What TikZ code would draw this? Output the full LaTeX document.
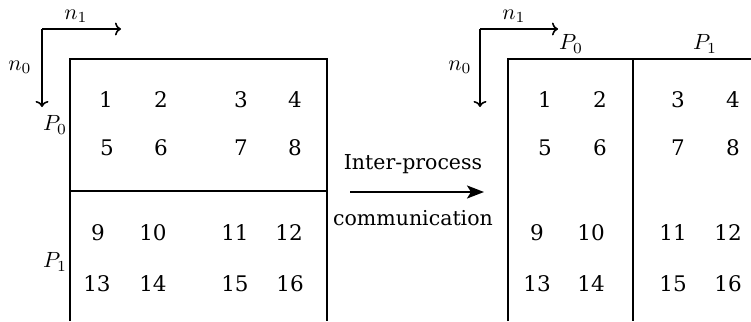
\documentclass[tikz,border=0pt]{standalone}
\usepackage{graphicx}
\usepackage{fontspec}
\setmainfont{DejaVu Serif}
\usetikzlibrary{arrows.meta}
\newcommand{\mylbl}[1]{\scalebox{2.2}{$#1$}}
\begin{document}
\begin{tikzpicture}[x=1pt,y=-1pt,
  num/.style={inner sep=0pt,font=\fontsize{21.5}{24}\selectfont},
  lbl/.style={inner sep=0pt},
  txt/.style={inner sep=0pt,font=\fontsize{20.5}{24}\selectfont},
  boxline/.style={line width=1.6pt},
  divline/.style={line width=2.4pt},
  axis/.style={line width=1.6pt,-{To[length=6pt,width=13pt]}},
  comm/.style={line width=2.2pt,-{Stealth[length=17pt,width=13pt,inset=4pt]}}]
\useasboundingbox (0,0) rectangle (751,321);
% ---------- left panel ----------
\coordinate (lo) at (42,29);
\coordinate (lx) at (121,29);
\coordinate (ly) at (42,107);
\draw[axis] (lo) -- (lx);
\draw[axis] (lo) -- (ly);
\node[lbl] (ln1) at (76,16) {\mylbl{n_1}};
\node[lbl] (ln0) at (20,67) {\mylbl{n_0}};
\node[lbl] (lp0) at (55,125) {\mylbl{P_0}};
\node[lbl] (lp1) at (55,262) {\mylbl{P_1}};
\coordinate (lbl) at (70,321);
\coordinate (ltl) at (70,59);
\coordinate (ltr) at (327,59);
\coordinate (lbr) at (327,321);
\coordinate (lml) at (70,191);
\coordinate (lmr) at (327,191);
\draw[boxline] (lbl) -- (ltl) -- (ltr) -- (lbr);
\draw[divline] (lml) -- (lmr);
\node[num] (a1) at (106,100) {1};
\node[num] (a2) at (161,100) {2};
\node[num] (a3) at (241,100) {3};
\node[num] (a4) at (295,100) {4};
\node[num] (a5) at (107,148) {5};
\node[num] (a6) at (161,148) {6};
\node[num] (a7) at (241,148) {7};
\node[num] (a8) at (295,148) {8};
\node[num] (a9) at (98,233) {9};
\node[num] (a10) at (153,233) {10};
\node[num] (a11) at (235,233) {11};
\node[num] (a12) at (289,233) {12};
\node[num] (a13) at (97,284) {13};
\node[num] (a14) at (153,284) {14};
\node[num] (a15) at (235,284) {15};
\node[num] (a16) at (290,284) {16};
% ---------- arrow ----------
\coordinate (cs) at (350,192);
\coordinate (ce) at (484,192);
\draw[comm] (cs) -- (ce);
\node[txt] (t1) at (413,164) {Inter-process};
\node[txt] (t2) at (413,218) {communication};
% ---------- right panel ----------
\coordinate (ro) at (480,29);
\coordinate (rx) at (558,29);
\coordinate (ry) at (480,107);
\draw[axis] (ro) -- (rx);
\draw[axis] (ro) -- (ry);
\node[lbl] (rn1) at (514,16) {\mylbl{n_1}};
\node[lbl] (rn0) at (460,67) {\mylbl{n_0}};
\node[lbl] (rp0) at (571,44) {\mylbl{P_0}};
\node[lbl] (rp1) at (705,44) {\mylbl{P_1}};
\coordinate (rbl) at (508,321);
\coordinate (rtl) at (508,59);
\coordinate (rtr) at (751,59);
\coordinate (rmt) at (633,59);
\coordinate (rmb) at (633,321);
\draw[boxline] (rbl) -- (rtl) -- (rtr);
\draw[divline] (rmt) -- (rmb);
\node[num] (b1) at (545,100) {1};
\node[num] (b2) at (600,100) {2};
\node[num] (b3) at (678,100) {3};
\node[num] (b4) at (733,100) {4};
\node[num] (b5) at (545,148) {5};
\node[num] (b6) at (600,148) {6};
\node[num] (b7) at (678,148) {7};
\node[num] (b8) at (733,148) {8};
\node[num] (b9) at (537,233) {9};
\node[num] (b10) at (591,233) {10};
\node[num] (b11) at (673,233) {11};
\node[num] (b12) at (728,233) {12};
\node[num] (b13) at (537,284) {13};
\node[num] (b14) at (591,284) {14};
\node[num] (b15) at (673,284) {15};
\node[num] (b16) at (728,284) {16};
\end{tikzpicture}
\end{document}
